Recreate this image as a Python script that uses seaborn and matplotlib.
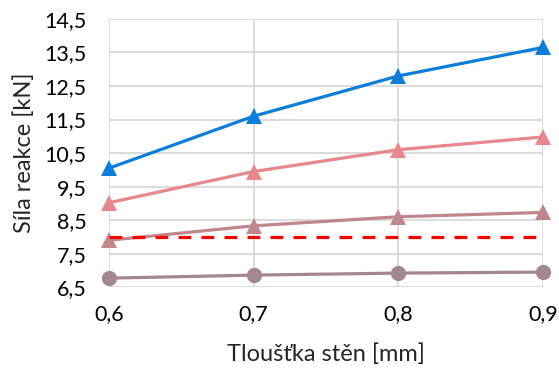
import matplotlib
matplotlib.use("Agg")
import matplotlib.pyplot as plt
import seaborn as sns
from matplotlib.ticker import FuncFormatter
from pandas import DataFrame

# tloušťka stěn [mm]
thickness = [0.6, 0.7, 0.8, 0.9]

# síla reakce [kN]
blue_tri = [10.05, 11.6, 12.8, 13.65]
pink_tri = [9.02, 9.95, 10.6, 10.98]
mauve_tri = [7.9, 8.33, 8.6, 8.73]
mauve_circ = [6.77, 6.86, 6.92, 6.95]
limit = [8.0, 8.0, 8.0, 8.0]

yticks = [6.5, 7.5, 8.5, 9.5, 10.5, 11.5, 12.5, 13.5, 14.5]

sns.set_style("white")
plt.rcParams['font.family'] = ['Lato', 'DejaVu Sans']

fig, ax = plt.subplots(figsize=(5.59, 3.72), dpi=100)
fig.subplots_adjust(left=0.195, right=0.971, top=0.949, bottom=0.228)

series = [
    (mauve_circ, '#A3878F', 'o'),
    (mauve_tri, '#C0868B', '^'),
    (pink_tri, '#E8878C', '^'),
    (blue_tri, '#0A7ED8', '^'),
]
for vals, color, marker in series:
    df = DataFrame({'x': thickness, 'y': vals})
    sns.lineplot(data=df, x='x', y='y', ax=ax, color=color, linewidth=2.3,
                 marker=marker, markersize=11, markeredgewidth=0, zorder=3)

# mezní hodnota - čárkovaná
df_lim = DataFrame({'x': thickness, 'y': limit})
sns.lineplot(data=df_lim, x='x', y='y', ax=ax, color='#FF0000', linewidth=2.3,
             dashes=False, zorder=4)
ax.lines[-1].set_dashes([4, 3.2])

ax.set_xlim(0.6, 0.9)
ax.set_ylim(6.5, 14.5)
ax.set_xticks(thickness)
ax.set_yticks(yticks)

def comma(v, pos):
    return f"{v:.1f}".replace('.', ',')

ax.yaxis.set_major_formatter(FuncFormatter(comma))
ax.xaxis.set_major_formatter(FuncFormatter(comma))

ax.grid(True, color='#D9D9D9', linewidth=1.3)
for s in ax.spines.values():
    s.set_visible(False)
ax.tick_params(axis='both', length=0, labelsize=15.5, colors='#000000')
ax.tick_params(axis='x', pad=12)
ax.tick_params(axis='y', pad=16)

ax.set_xlabel('Tloušťka stěn [mm]', fontsize=17, labelpad=14)
ax.set_ylabel('Síla reakce [kN]', fontsize=17, labelpad=7)

for line in ax.lines:
    line.set_clip_on(False)

fig.savefig('out.png', dpi=100)
plt.close(fig)
